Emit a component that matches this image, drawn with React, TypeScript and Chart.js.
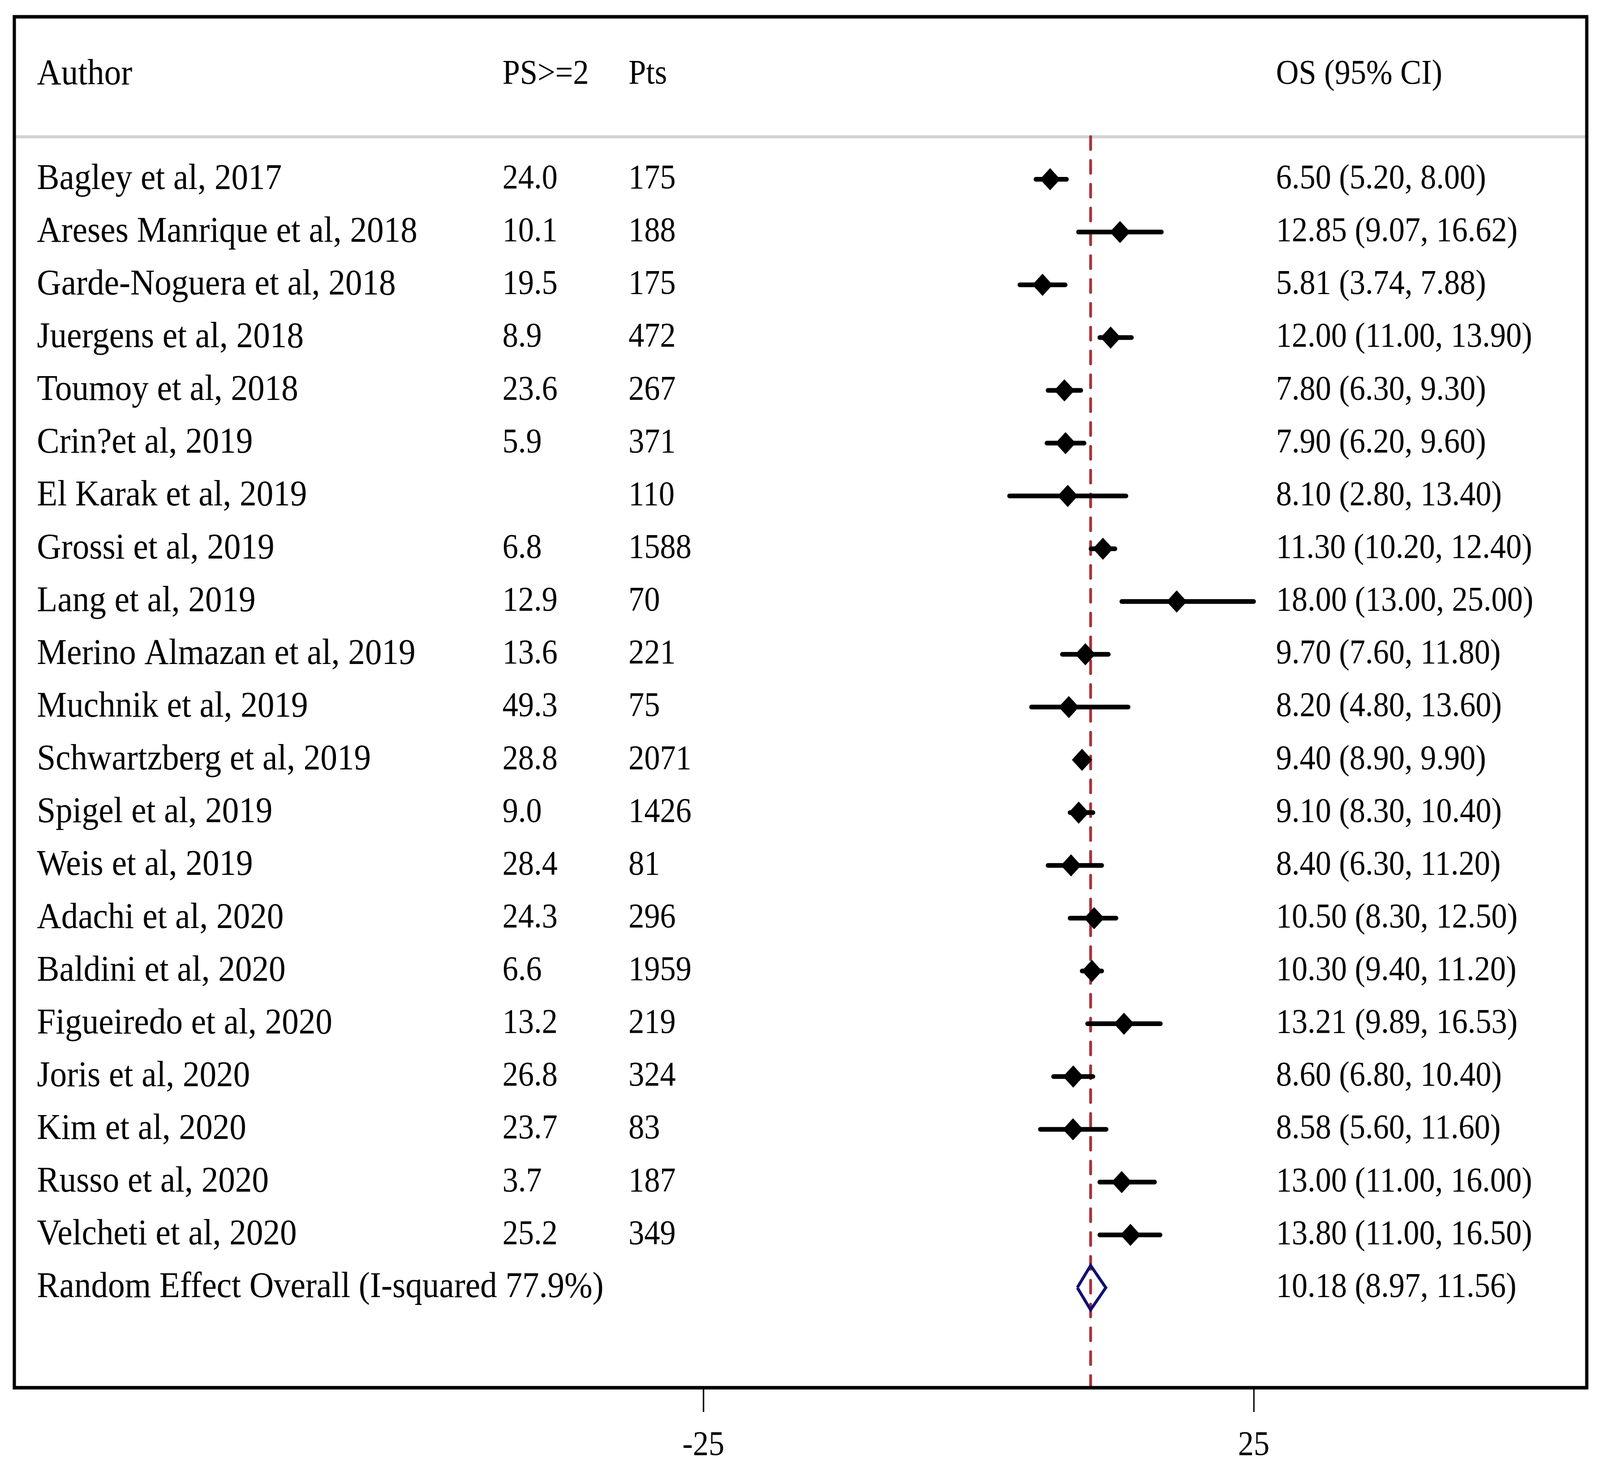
import React, { useEffect, useRef } from 'react';
import { Chart, registerables } from 'chart.js';

Chart.register(...registerables);

// ---------- data ----------
const HEADERS = ['Author', 'PS>=2', 'Pts', 'OS (95% CI)'];

const AUTHORS = [
  'Bagley et al, 2017',
  'Areses Manrique et al, 2018',
  'Garde-Noguera et al, 2018',
  'Juergens et al, 2018',
  'Toumoy et al, 2018',
  'Crin?et al, 2019',
  'El Karak et al, 2019',
  'Grossi et al, 2019',
  'Lang et al, 2019',
  'Merino Almazan et al, 2019',
  'Muchnik et al, 2019',
  'Schwartzberg et al, 2019',
  'Spigel et al, 2019',
  'Weis et al, 2019',
  'Adachi et al, 2020',
  'Baldini et al, 2020',
  'Figueiredo et al, 2020',
  'Joris et al, 2020',
  'Kim et al, 2020',
  'Russo et al, 2020',
  'Velcheti et al, 2020',
];

const PS = [
  '24.0', '10.1', '19.5', '8.9', '23.6', '5.9', '', '6.8', '12.9', '13.6', '49.3',
  '28.8', '9.0', '28.4', '24.3', '6.6', '13.2', '26.8', '23.7', '3.7', '25.2',
];

const PTS = [
  175, 188, 175, 472, 267, 371, 110, 1588, 70, 221, 75,
  2071, 1426, 81, 296, 1959, 219, 324, 83, 187, 349,
];

const OS_EST = [
  6.5, 12.85, 5.81, 12.0, 7.8, 7.9, 8.1, 11.3, 18.0, 9.7, 8.2,
  9.4, 9.1, 8.4, 10.5, 10.3, 13.21, 8.6, 8.58, 13.0, 13.8,
];
const OS_LO = [
  5.2, 9.07, 3.74, 11.0, 6.3, 6.2, 2.8, 10.2, 13.0, 7.6, 4.8,
  8.9, 8.3, 6.3, 8.3, 9.4, 9.89, 6.8, 5.6, 11.0, 11.0,
];
const OS_HI = [
  8.0, 16.62, 7.88, 13.9, 9.3, 9.6, 13.4, 12.4, 25.0, 11.8, 13.6,
  9.9, 10.4, 11.2, 12.5, 11.2, 16.53, 10.4, 11.6, 16.0, 16.5,
];

const OVERALL_LABEL = 'Random Effect Overall (I-squared 77.9%)';
const OVERALL_EST = 10.18;
const OVERALL_LO = 8.97;
const OVERALL_HI = 11.56;

const X_TICKS = [-25, 25];

// ---------- layout constants (drawing px, canvas 4468 x 3779) ----------
const W = 4468;
const H = 3779;
const X_MIN = -87.59;
const X_MAX = 55.25;
const Y_MIN = -2.078;
const Y_MAX = 23.896;
const HEADER_Y = -0.98;
const RULE_Y = 0.196;
const COL_X = [-85.54, -43.25, -31.8, 27.02];
const TEXT_FONT = '94px "Liberation Serif"';
const NUM_FONT = '88px "Liberation Serif"';
const DIAMOND_HALF_H = 0.42;

const fmt = (v: number) => v.toFixed(2);
const osText = (e: number, l: number, h: number) => `${fmt(e)} (${fmt(l)}, ${fmt(h)})`;

const tablePlugin = {
  id: 'forestTable',
  afterDraw(chart: any) {
    const { ctx, chartArea, scales } = chart;
    const xs = scales.x;
    const ys = scales.y;
    ctx.save();
    ctx.strokeStyle = '#000';
    ctx.lineWidth = 9;
    ctx.strokeRect(chartArea.left, chartArea.top, chartArea.right - chartArea.left, chartArea.bottom - chartArea.top);

    ctx.fillStyle = '#000';
    ctx.textAlign = 'left';
    ctx.textBaseline = 'middle';
    const put = (t: string, col: number, y: number, font: string) => {
      ctx.font = font;
      ctx.fillText(t, xs.getPixelForValue(COL_X[col]), y);
    };
    const hy = ys.getPixelForValue(HEADER_Y);
    HEADERS.forEach((h, i) => put(h, i, hy, i === 0 ? TEXT_FONT : NUM_FONT));

    AUTHORS.forEach((a, i) => {
      const y = ys.getPixelForValue(i + 1);
      put(a, 0, y, TEXT_FONT);
      if (PS[i]) put(PS[i], 1, y, NUM_FONT);
      put(String(PTS[i]), 2, y, NUM_FONT);
      put(osText(OS_EST[i], OS_LO[i], OS_HI[i]), 3, y, NUM_FONT);
    });
    const oy = ys.getPixelForValue(AUTHORS.length + 1);
    put(OVERALL_LABEL, 0, oy, TEXT_FONT);
    put(osText(OVERALL_EST, OVERALL_LO, OVERALL_HI), 3, oy, NUM_FONT);
    ctx.restore();
  },
};

export default function App() {
  const ref = useRef<HTMLCanvasElement | null>(null);

  useEffect(() => {
    document.body.style.margin = '0';
    document.body.style.overflow = 'hidden';
    const canvas = ref.current;
    if (!canvas) return;

    const ciSets = AUTHORS.map((_, i) => ({
      type: 'line' as const,
      data: [
        { x: OS_LO[i], y: i + 1 },
        { x: OS_HI[i], y: i + 1 },
      ],
      borderColor: '#000',
      borderWidth: 12,
      borderCapStyle: 'round' as const,
      pointRadius: 0,
      showLine: true,
      fill: false,
      order: 3,
    }));

    const oRow = AUTHORS.length + 1;

    const chart = new Chart(canvas, {
      type: 'scatter',
      data: {
        datasets: [
          {
            type: 'line',
            data: [
              { x: X_MIN, y: RULE_Y },
              { x: X_MAX, y: RULE_Y },
            ],
            borderColor: '#d3d3d3',
            borderWidth: 8,
            pointRadius: 0,
            showLine: true,
            order: 6,
          } as any,
          {
            type: 'line',
            data: [
              { x: OVERALL_EST, y: RULE_Y },
              { x: OVERALL_EST, y: Y_MAX },
            ],
            borderColor: '#a8323a',
            borderWidth: 8,
            borderDash: [32, 29],
            borderCapStyle: 'round',
            pointRadius: 0,
            showLine: true,
            order: 5,
          } as any,
          ...(ciSets as any[]),
          {
            type: 'scatter',
            data: AUTHORS.map((_, i) => ({ x: OS_EST[i], y: i + 1 })),
            pointStyle: 'rectRot',
            pointRadius: 27,
            backgroundColor: '#000',
            borderColor: '#000',
            borderWidth: 2,
            order: 2,
          } as any,
          {
            type: 'line',
            data: [
              { x: OVERALL_LO, y: oRow },
              { x: OVERALL_EST, y: oRow - DIAMOND_HALF_H },
              { x: OVERALL_HI, y: oRow },
              { x: OVERALL_EST, y: oRow + DIAMOND_HALF_H },
              { x: OVERALL_LO, y: oRow },
            ],
            borderColor: '#10106e',
            borderWidth: 8,
            borderJoinStyle: 'miter',
            pointRadius: 0,
            showLine: true,
            fill: false,
            order: 1,
          } as any,
        ],
      },
      options: {
        responsive: false,
        devicePixelRatio: 1,
        animation: false,
        events: [],
        layout: { padding: { left: 40, right: 37, top: 43, bottom: 20 } },
        plugins: { legend: { display: false }, tooltip: { enabled: false } },
        scales: {
          x: {
            type: 'linear',
            position: 'bottom',
            min: X_MIN,
            max: X_MAX,
            afterBuildTicks: (scale: any) => {
              scale.ticks = X_TICKS.map((v) => ({ value: v }));
            },
            afterFit: (scale: any) => {
              scale.height = 206;
            },
            grid: {
              display: true,
              drawOnChartArea: false,
              drawTicks: true,
              tickLength: 62,
              tickWidth: 4,
              tickColor: '#000',
            },
            border: { display: false },
            ticks: {
              padding: 34,
              color: '#000',
              font: { family: 'Liberation Serif', size: 88 },
              maxRotation: 0,
              autoSkip: false,
            },
          },
          y: {
            type: 'linear',
            display: false,
            min: Y_MIN,
            max: Y_MAX,
            reverse: true,
          },
        },
      },
      plugins: [tablePlugin],
    } as any);

    return () => chart.destroy();
  }, []);

  return (
    <canvas
      ref={ref}
      width={W}
      height={H}
      style={{ position: 'fixed', left: 0, top: 0, width: '100vw', height: '100vh', display: 'block' }}
    />
  );
}
